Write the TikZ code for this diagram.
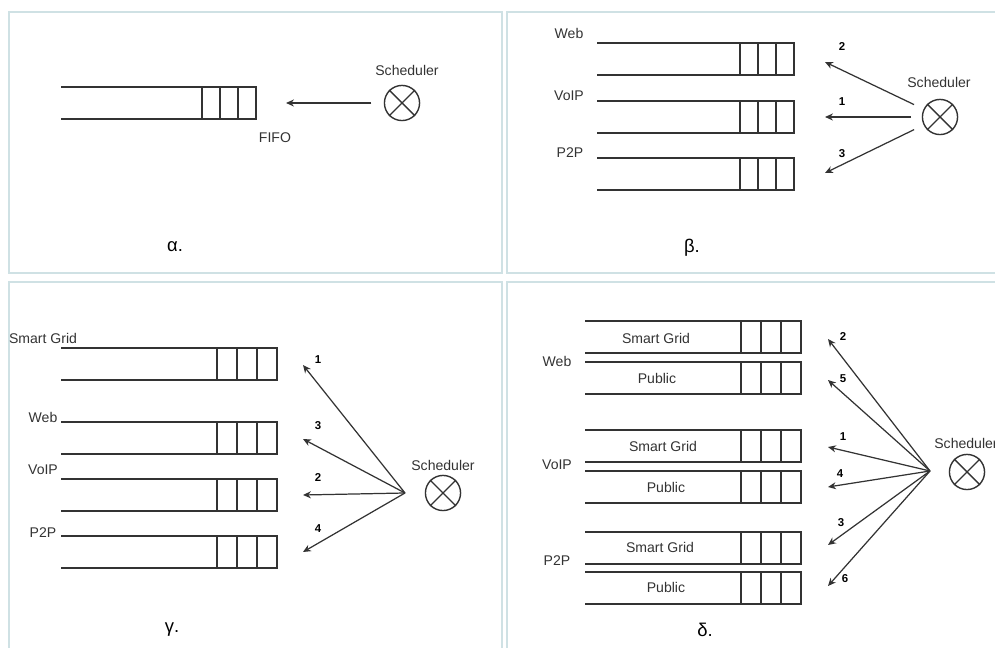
\documentclass[tikz,border=0pt]{standalone}
\usepackage{fontspec}
\setmainfont{Liberation Sans}
\usetikzlibrary{arrows.meta,positioning,calc}
\definecolor{panelc}{HTML}{CFE1E4}
\definecolor{inkc}{HTML}{333333}
\tikzset{
	panel/.style={draw=panelc,line width=0.9pt},
	qline/.style={draw=inkc,line width=0.8pt},
	lbl/.style={text=inkc,font=\fontsize{8}{9}\selectfont,inner sep=0pt},
	num/.style={text=black,font=\fontsize{6.5}{8}\selectfont\bfseries,inner sep=0pt},
	greek/.style={text=black,font=\fontsize{10.5}{12}\selectfont,inner sep=0pt},
	sched/.style={circle,draw=inkc,line width=0.8pt,minimum size=20pt,inner sep=0pt},
	fwd/.style={draw=inkc,line width=0.7pt,-{Stealth[length=4.5pt,width=4pt]}}
}
% queue: left x, top y, right x, cell width
\newcommand{\fifoq}[4]{%
	\draw[qline] (#1,#2) -- (#3,#2) -- (#3,#2+32) -- (#1,#2+32);
	\foreach \k in {1,2,3} \draw[qline] (#3-\k*#4,#2) -- (#3-\k*#4,#2+32);
}
% scheduler: name, x, y
\newcommand{\schedx}[3]{%
	\node[sched] (#1) at (#2,#3) {};
	\draw[qline] (#1.north west) -- (#1.south east) (#1.north east) -- (#1.south west);
}
\begin{document}
\begin{tikzpicture}[x=0.02cm,y=-0.02cm]
	\useasboundingbox (0,0) rectangle (995,648);
	\draw[panel] (9,12) rectangle (502,273);
	\draw[panel] (507,12) rectangle (1000,273);
	\draw[panel] (9,282) rectangle (502,660);
	\draw[panel] (507,282) rectangle (1000,660);

	% alpha
	\fifoq{61}{87}{256}{18}
	\schedx{sa}{402}{103}
	\node[lbl] (sa-t) at (407,70) {Scheduler};
	\node[lbl] (fifo) at (275,138) {FIFO};
	\coordinate (qa) at (286,103);
	\draw[fwd,shorten <=7pt] (sa) -- (qa);
	\node[greek] (ga) at (175,247) {α.};

	% beta
	\foreach \t in {43,101,158} {\fifoq{597}{\t}{794}{18}}
	\node[lbl] (b-web) at (569,33) {Web};
	\node[lbl] (b-voip) at (569,96) {VoIP};
	\node[lbl] (b-p2p) at (570,153) {P2P};
	\schedx{sb}{940}{117}
	\node[lbl] (sb-t) at (939,82) {Scheduler};
	\foreach \n/\y/\ly in {2/62/47,1/117/102,3/173/154}{
		\coordinate (b\n) at (825,\y);
		\draw[fwd,shorten <=6pt] (sb) -- (b\n);
		\node[num] (bn\n) at (842,\ly) {\n};
	}
	\node[greek] (gb) at (692,248) {β.};

	% gamma
	\foreach \t in {348,422,479,536} {\fifoq{61}{\t}{277}{20}}
	\node[lbl] (c-sg) at (43,338) {Smart Grid};
	\node[lbl] (c-web) at (43,417) {Web};
	\node[lbl] (c-voip) at (43,470) {VoIP};
	\node[lbl] (c-p2p) at (43,533) {P2P};
	\schedx{sc}{443}{493}
	\node[lbl] (sc-t) at (443,465) {Scheduler};
	\coordinate (chub) at (405,493);
	\foreach \n/\y/\ly in {1/365/360,3/439/426,2/495/478,4/552/529}{
		\coordinate (c\n) at (303,\y);
		\draw[fwd] (chub) -- (c\n);
		\node[num] (cn\n) at (318,\ly) {\n};
	}
	\node[greek] (gc) at (172,630) {γ.};

	% delta
	\foreach \t in {321,362,430,471,532,572} {\fifoq{585}{\t}{801}{20}}
	\foreach \x/\y/\s [count=\i] in {656/338/Smart Grid,657/378/Public,663/446/Smart Grid,666/487/Public,660/547/Smart Grid,666/587/Public}{
		\node[lbl] (d-in\i) at (\x,\y) {\s};
	}
	\node[lbl] (d-web) at (557,361) {Web};
	\node[lbl] (d-voip) at (557,465) {VoIP};
	\node[lbl] (d-p2p) at (557,561) {P2P};
	\schedx{sd}{967}{472}
	\node[lbl] (sd-t) at (966,443) {Scheduler};
	\coordinate (dhub) at (930,471);
	\foreach \n/\y/\lx/\ly in {2/339/843/337,5/380/843/379,1/447/843/437,4/487/840/474,3/545/841/523,6/586/845/579}{
		\coordinate (d\n) at (828,\y);
		\draw[fwd] (dhub) -- (d\n);
		\node[num] (dn\n) at (\lx,\ly) {\n};
	}
	\node[greek] (gd) at (705,630) {δ.};
\end{tikzpicture}
\end{document}
